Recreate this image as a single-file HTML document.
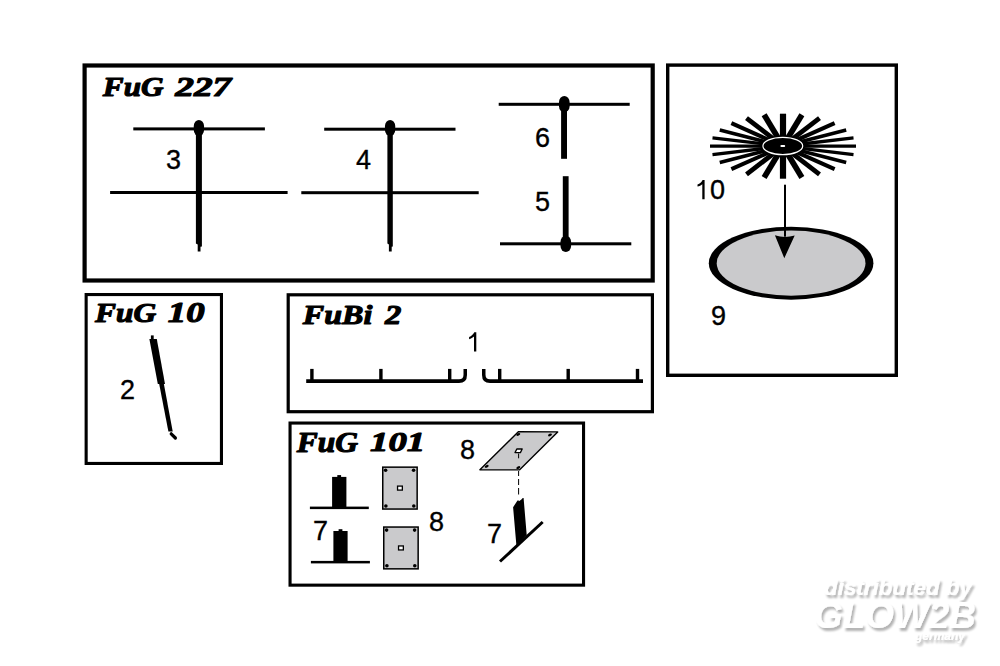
<!DOCTYPE html>
<html><head><meta charset="utf-8"><style>
html,body{margin:0;padding:0;background:#fff;width:1000px;height:666px;overflow:hidden}
svg{display:block}
.n{font-family:"Liberation Sans",sans-serif;fill:#000;stroke:#000;stroke-width:0.35px}
.t{font-family:"Liberation Serif",serif;font-weight:bold;font-style:italic;fill:#000}
.wm{font-family:"Liberation Sans",sans-serif;font-weight:bold;font-style:italic;fill:#fff}
</style></head><body>
<svg width="1000" height="666" viewBox="0 0 1000 666">
<defs><filter id="sh" x="-10%" y="-30%" width="130%" height="160%"><feGaussianBlur in="SourceAlpha" stdDeviation="1.2"/><feOffset dx="2" dy="2.5"/><feComponentTransfer><feFuncA type="linear" slope="0.3"/></feComponentTransfer><feMerge><feMergeNode/><feMergeNode in="SourceGraphic"/></feMerge></filter></defs>
<rect x="84.6" y="65.5" width="568.0999999999999" height="215.00000000000003" fill="none" stroke="#000" stroke-width="4.2"/><rect x="667.7" y="65.1" width="228.6" height="310.20000000000005" fill="none" stroke="#000" stroke-width="3.4"/><rect x="86.14999999999999" y="294.55" width="135.3" height="168.9" fill="none" stroke="#000" stroke-width="3.1"/><rect x="288.20000000000005" y="294.8" width="364.2" height="116.90000000000002" fill="none" stroke="#000" stroke-width="3.2"/><rect x="290.05" y="423.05" width="293.5" height="162.10000000000005" fill="none" stroke="#000" stroke-width="3.1"/><text transform="translate(102.85,96.25) scale(0.3124,0.2785)" class="t" font-size="100" stroke="#000" stroke-width="4.0" stroke-linejoin="round">FuG</text><text transform="translate(175.22,95.97) scale(0.3740,0.2773)" class="t" font-size="100" stroke="#000" stroke-width="4.0" stroke-linejoin="round">227</text><text transform="translate(95.05,321.95) scale(0.3140,0.2831)" class="t" font-size="100" stroke="#000" stroke-width="4.0" stroke-linejoin="round">FuG</text><text transform="translate(167.81,321.68) scale(0.3687,0.2853)" class="t" font-size="100" stroke="#000" stroke-width="4.0" stroke-linejoin="round">10</text><text transform="translate(302.85,324.25) scale(0.3208,0.2738)" class="t" font-size="100" stroke="#000" stroke-width="4.0" stroke-linejoin="round">FuBi</text><text transform="translate(384.98,323.97) scale(0.3265,0.2803)" class="t" font-size="100" stroke="#000" stroke-width="4.0" stroke-linejoin="round">2</text><text transform="translate(296.85,451.95) scale(0.3145,0.2877)" class="t" font-size="100" stroke="#000" stroke-width="4.0" stroke-linejoin="round">FuG</text><text transform="translate(370.06,451.40) scale(0.3678,0.2735)" class="t" font-size="100" stroke="#000" stroke-width="4.0" stroke-linejoin="round">101</text><g fill="#000"><rect x="133.3" y="127.4" width="131.59999999999997" height="3"/><rect x="110.1" y="191.0" width="177.50000000000003" height="3"/><path d="M195.9 128 L201.9 128 L201.9 246.4 L200.5 246.8 L200.5 251.5 L197.70000000000002 251.5 L197.70000000000002 244.5 L195.9 243.4 Z"/><rect x="193.75" y="120" width="10.3" height="16" rx="5.15" ry="6"/><rect x="324.2" y="127.69999999999999" width="131.3" height="3"/><rect x="301.3" y="191.2" width="177.39999999999998" height="3"/><path d="M387.40000000000003 128.1 L392.8 128.1 L392.8 246.4 L391.70000000000005 246.8 L391.70000000000005 251.5 L388.90000000000003 251.5 L388.90000000000003 244.5 L387.40000000000003 243.4 Z"/><rect x="384.95000000000005" y="120.1" width="10.3" height="16" rx="5.15" ry="6"/><rect x="498.7" y="102.8" width="131" height="3"/><rect x="561.1" y="104" width="5.9" height="54.8"/><rect x="559" y="96" width="10.6" height="16.2" rx="5.3" ry="6"/><rect x="500" y="242.3" width="131.3" height="3"/><rect x="562.8" y="176.2" width="5.8" height="67"/><rect x="560.5" y="235.7" width="10.6" height="16.2" rx="5.3" ry="6"/></g><g fill="#000"><path d="M791.00 147.81 L856.00 147.81 L856.00 144.59 L791.00 144.59 Z"/><path d="M791.14 146.89 L853.71 139.43 L853.32 136.15 L790.75 143.61 Z"/><path d="M791.19 145.94 L846.66 131.68 L845.78 128.22 L790.30 142.48 Z"/><path d="M791.13 144.79 L835.44 125.07 L833.80 121.37 L789.49 141.10 Z"/><path d="M790.80 143.21 L820.96 119.95 L818.04 116.16 L787.87 139.42 Z"/><path d="M789.57 140.82 L804.34 116.28 L799.45 113.34 L784.68 137.87 Z"/><path d="M786.10 138.20 L786.10 113.70 L779.90 113.70 L779.90 138.20 Z"/><path d="M781.32 137.87 L766.55 113.34 L761.66 116.28 L776.43 140.82 Z"/><path d="M778.13 139.42 L747.96 116.16 L745.04 119.95 L775.20 143.21 Z"/><path d="M776.51 141.10 L732.20 121.37 L730.56 125.07 L774.87 144.79 Z"/><path d="M775.70 142.48 L720.22 128.22 L719.34 131.68 L774.81 145.94 Z"/><path d="M775.25 143.61 L712.68 136.15 L712.29 139.43 L774.86 146.89 Z"/><path d="M775.00 144.59 L710.00 144.59 L710.00 147.81 L775.00 147.81 Z"/><path d="M774.86 145.51 L712.29 152.97 L712.68 156.25 L775.25 148.79 Z"/><path d="M774.81 146.46 L719.34 160.72 L720.22 164.18 L775.70 149.92 Z"/><path d="M774.87 147.61 L730.56 167.33 L732.20 171.03 L776.51 151.30 Z"/><path d="M775.20 149.19 L745.04 172.45 L747.96 176.24 L778.13 152.98 Z"/><path d="M776.43 151.58 L761.66 176.12 L766.55 179.06 L781.32 154.53 Z"/><path d="M779.90 154.20 L779.90 178.70 L786.10 178.70 L786.10 154.20 Z"/><path d="M784.68 154.53 L799.45 179.06 L804.34 176.12 L789.57 151.58 Z"/><path d="M787.87 152.98 L818.04 176.24 L820.96 172.45 L790.80 149.19 Z"/><path d="M789.49 151.30 L833.80 171.03 L835.44 167.33 L791.13 147.61 Z"/><path d="M790.30 149.92 L845.78 164.18 L846.66 160.72 L791.19 146.46 Z"/><path d="M790.75 148.79 L853.32 156.25 L853.71 152.97 L791.14 145.51 Z"/></g><ellipse cx="782.8" cy="146" rx="21.6" ry="10" fill="#000"/><ellipse cx="782.8" cy="146" rx="19.9" ry="8.7" fill="#000" stroke="#fff" stroke-width="1.2"/><rect x="780.4" y="145.1" width="4.8" height="2" rx="1" fill="#fff"/><ellipse cx="791.1" cy="263.15" rx="82.3" ry="36.5" fill="#000"/><ellipse cx="791.1" cy="263.2" rx="74.4" ry="32.6" fill="#cacacc"/><rect x="784" y="184.7" width="2" height="52"/><path d="M774.9 235.3 Q784.8 238.5 794.7 235.5 L784.3 258.2 Z" fill="#000"/><g fill="#000"><path d="M149.4 339 L156.8 339 L165 384 L157.8 384 Z"/><path d="M159.1 383.4 L163.8 383.4 L172.7 431.4 L168.4 431.4 Z"/><rect x="150.9" y="335.4" width="2.8" height="4.5"/><line x1="171.2" y1="433.8" x2="175.4" y2="438" stroke="#000" stroke-width="3.2" stroke-linecap="round"/></g><g fill="#000"><path d="M306.2 379.3 L459 379.3 Q463.5 379.3 463.5 374.8 L463.5 369 L467 369 L467 375 Q467 383 459 383 L306.2 383 Z"/><path d="M643 379.3 L490 379.3 Q485.5 379.3 485.5 374.8 L485.5 369 L482 369 L482 375 Q482 383 490 383 L643 383 Z"/><rect x="310.2" y="368.9" width="3.4" height="12"/><rect x="379.2" y="368.9" width="3.4" height="12"/><rect x="448.0" y="368.9" width="3.4" height="12"/><rect x="498.0" y="368.9" width="3.4" height="12"/><rect x="566.5" y="368.9" width="3.4" height="12"/><rect x="635.8" y="368.9" width="3.4" height="12"/></g><g fill="#000"><rect x="309.9" y="506.6" width="58.9" height="2.5"/><rect x="332.1" y="476.9" width="14.3" height="31"/><rect x="337.3" y="475.1" width="3.8" height="2.5"/><rect x="310.9" y="560.9" width="59" height="2.5"/><rect x="333.4" y="531" width="14.2" height="31"/><rect x="338.6" y="529.2" width="3.8" height="2.5"/></g><rect x="382.75" y="467.15" width="34.39999999999998" height="41.900000000000034" fill="#cacacc" stroke="#000" stroke-width="1.5"/><circle cx="385.6" cy="470.2" r="1.8" fill="#000"/><circle cx="413.59999999999997" cy="470.2" r="1.8" fill="#000"/><circle cx="385.9" cy="506.0" r="1.8" fill="#000"/><circle cx="413.79999999999995" cy="506.0" r="1.8" fill="#000"/><rect x="397.55" y="486.1" width="4.8" height="4" fill="#fff" stroke="#000" stroke-width="1.3"/><rect x="383.75" y="527.05" width="34.39999999999998" height="41.80000000000007" fill="#cacacc" stroke="#000" stroke-width="1.5"/><circle cx="386.6" cy="530.0999999999999" r="1.8" fill="#000"/><circle cx="414.59999999999997" cy="530.0999999999999" r="1.8" fill="#000"/><circle cx="386.9" cy="565.8000000000001" r="1.8" fill="#000"/><circle cx="414.79999999999995" cy="565.8000000000001" r="1.8" fill="#000"/><rect x="398.55" y="545.95" width="4.8" height="4" fill="#fff" stroke="#000" stroke-width="1.3"/><path d="M518.6 431.6 L557.7 431.9 L519.4 469.9 L479.9 469.7 Z" fill="#cacacc" stroke="#000" stroke-width="1.4" stroke-linejoin="round"/><ellipse cx="518.3" cy="434.4" rx="2.1" ry="1.2" transform="rotate(-25 518.3 434.4)" fill="#000"/><ellipse cx="550" cy="434.9" rx="2.1" ry="1.2" transform="rotate(-25 550 434.9)" fill="#000"/><ellipse cx="486.7" cy="466.3" rx="2.1" ry="1.2" transform="rotate(-25 486.7 466.3)" fill="#000"/><ellipse cx="518.3" cy="467.6" rx="2.1" ry="1.2" transform="rotate(-25 518.3 467.6)" fill="#000"/><path d="M516.8 449 L522.2 449 L520.4 452.6 L515 452.6 Z" fill="#fff" stroke="#000" stroke-width="1.3" stroke-linejoin="round"/><rect x="518.1" y="453.5" width="1" height="4.800000000000011" fill="#000"/><rect x="518.1" y="471" width="1" height="5" fill="#000"/><rect x="518.1" y="479" width="1" height="6" fill="#000"/><rect x="518.1" y="488" width="1" height="6.5" fill="#000"/><path d="M513.1 507.3 L517 501.3 L518.1 500 L518.9 501.3 L521.1 499.8 L522.8 498.1 L523.6 498.1 L526.7 535 L516.4 545.5 Z" fill="#000"/><line x1="500" y1="561.5" x2="542.7" y2="522" stroke="#000" stroke-width="3"/><text x="166" y="168.5" class="n" font-size="27">3</text><text x="356" y="169" class="n" font-size="27">4</text><text x="535" y="147.3" class="n" font-size="27">6</text><text x="535" y="210.8" class="n" font-size="27">5</text><text x="710" y="199.3" class="n" font-size="27">0</text><path d="M704.6 180 L704.6 199.2 L702.3 199.2 L702.3 184.3 C701.1 185.3 699.4 186.2 697.5 186.6 L697.5 184.5 C699.9 183.7 701.6 182 702.6 180 Z"/><text x="711" y="324.5" class="n" font-size="27">9</text><text x="120" y="399.4" class="n" font-size="27">2</text><path d="M476.3 332.2 L476.3 351.5 L474 351.5 L474 336.5 C472.8 337.6 471 338.6 469.1 339.2 L469.1 337 C471.5 336 473.2 334.3 474.3 332.2 Z"/><text x="313" y="539.8" class="n" font-size="27">7</text><text x="429" y="530.6" class="n" font-size="27">8</text><text x="460" y="459" class="n" font-size="27">8</text><text x="487" y="542.7" class="n" font-size="27">7</text>
<g filter="url(#sh)">
<text x="824" y="595" class="wm" font-size="22" textLength="148" lengthAdjust="spacingAndGlyphs">distributed by</text>
<text x="814" y="628" class="wm" font-size="36" textLength="162" lengthAdjust="spacingAndGlyphs">GLOW2B</text>
<text x="915" y="640" class="wm" font-size="13" textLength="50" lengthAdjust="spacingAndGlyphs">germany</text>
</g>
</svg>
</body></html>
